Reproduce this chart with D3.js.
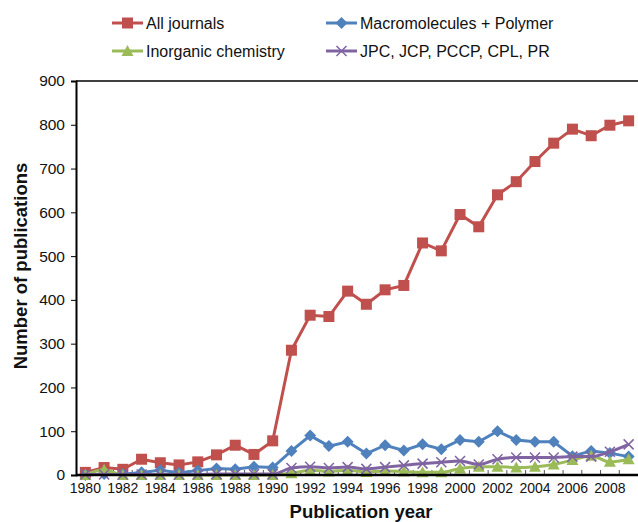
<!DOCTYPE html>
<html>
<head>
<meta charset="utf-8">
<script src="https://cdnjs.cloudflare.com/ajax/libs/d3/7.8.5/d3.min.js"></script>
<style>
  body { margin: 0; background: #fff; }
  text { font-family: "Liberation Sans", Arial, sans-serif; fill: #111; }
</style>
</head>
<body>
<div id="chart"></div>
<script>
// categories and series
var years = [1980, 1981, 1982, 1983, 1984, 1985, 1986, 1987, 1988, 1989,
             1990, 1991, 1992, 1993, 1994, 1995, 1996, 1997, 1998, 1999,
             2000, 2001, 2002, 2003, 2004, 2005, 2006, 2007, 2008, 2009];

var allJournals = [6, 17, 13, 36, 28, 23, 30, 46, 68, 47,
                   78, 285, 365, 362, 420, 390, 423, 433, 530, 512,
                   595, 567, 640, 670, 716, 758, 790, 775, 799, 809];
var macroPolymer = [0, 2, 2, 6, 11, 5, 10, 15, 13, 19,
                    17, 55, 90, 66, 76, 49, 68, 56, 70, 59,
                    80, 76, 100, 80, 76, 76, 43, 55, 50, 42];
var inorganic = [0, 12, 0, 0, 0, 0, 0, 0, 0, 0,
                 0, 4, 11, 8, 11, 7, 9, 8, 6, 6,
                 15, 19, 19, 17, 19, 24, 34, 44, 30, 36];
var physChem = [1, 1, 1, 1, 1, 1, 1, 2, 2, 2,
                2, 16, 19, 16, 18, 14, 18, 22, 26, 29,
                32, 24, 36, 40, 40, 40, 42, 42, 53, 70];

var seriesNames = ["All journals", "Macromolecules + Polymer", "Inorganic chemistry", "JPC, JCP, PCCP, CPL, PR"];
var yTicks = [0, 100, 200, 300, 400, 500, 600, 700, 800, 900];
var xTickLabels = [1980, 1982, 1984, 1986, 1988, 1990, 1992, 1994, 1996, 1998, 2000, 2002, 2004, 2006, 2008];

var W = 638, H = 522;
var margin = {top: 81, right: 0, bottom: 47, left: 76};

var svg = d3.select("#chart").append("svg")
  .attr("width", W).attr("height", H);

var x = d3.scaleLinear()
  .domain([years[0] - 0.5, years[years.length - 1] + 0.5])
  .range([margin.left, W - margin.right]);

var y = d3.scaleLinear()
  .domain([0, 900])
  .range([H - margin.bottom, margin.top]);

var series = [
  {name: seriesNames[0], values: allJournals, color: "#c0504d", marker: "square", curve: d3.curveLinear},
  {name: seriesNames[1], values: macroPolymer, color: "#4f81bd", marker: "diamond", curve: d3.curveLinear},
  {name: seriesNames[2], values: inorganic, color: "#9bbb59", marker: "triangle", curve: d3.curveMonotoneX},
  {name: seriesNames[3], values: physChem, color: "#8064a2", marker: "cross", curve: d3.curveMonotoneX}
];

// top border line
svg.append("line")
  .attr("x1", margin.left).attr("x2", W)
  .attr("y1", margin.top).attr("y2", margin.top)
  .attr("stroke", "#000").attr("stroke-width", 1.5);

// y axis
var yAxis = svg.append("g")
  .attr("transform", "translate(" + margin.left + ",0)")
  .call(d3.axisLeft(y).tickValues(yTicks).tickSize(5).tickPadding(6));
yAxis.select(".domain").attr("stroke-width", 2);
yAxis.selectAll("text").style("font-size", "15.5px").style("font-family", "Liberation Sans, Arial, sans-serif");

// x axis: ticks at category boundaries, labels every other year
var boundaries = years.map(function(d) { return d + 0.5; }).slice(0, -1);
svg.append("g")
  .selectAll("line")
  .data(boundaries)
  .enter()
  .append("line")
  .attr("x1", function(d) { return x(d); })
  .attr("x2", function(d) { return x(d); })
  .attr("y1", y(0) - 5)
  .attr("y2", y(0))
  .attr("stroke", "#555")
  .attr("stroke-width", 1);

svg.append("g")
  .selectAll("text")
  .data(xTickLabels)
  .enter()
  .append("text")
  .attr("x", function(d) { return x(d); })
  .attr("y", y(0) + 18)
  .attr("text-anchor", "middle")
  .style("font-size", "14px")
  .text(function(d) { return d; });

// series lines and markers
function drawMarker(g, type, color) {
  if (type === "square") {
    g.append("rect").attr("x", -5.5).attr("y", -5.5).attr("width", 11).attr("height", 11).attr("fill", color);
  } else if (type === "diamond") {
    g.append("path").attr("d", "M0,-6L6,0L0,6L-6,0Z").attr("fill", color);
  } else if (type === "triangle") {
    g.append("path").attr("d", "M0,-6L6,5L-6,5Z").attr("fill", color);
  } else {
    g.append("path").attr("d", "M-5,-5L5,5M-5,5L5,-5").attr("stroke", color).attr("stroke-width", 1.5).attr("fill", "none");
  }
}

series.forEach(function(s) {
  var line = d3.line()
    .x(function(d, i) { return x(years[i]); })
    .y(function(d) { return y(d); })
    .curve(s.curve);

  svg.append("path")
    .datum(s.values)
    .attr("d", line)
    .attr("fill", "none")
    .attr("stroke", s.color)
    .attr("stroke-width", 3);

  svg.append("g")
    .selectAll("g")
    .data(s.values)
    .enter()
    .append("g")
    .attr("transform", function(d, i) { return "translate(" + x(years[i]) + "," + y(d) + ")"; })
    .each(function() { drawMarker(d3.select(this), s.marker, s.color); });
});

// x axis baseline drawn on top
svg.append("line")
  .attr("x1", margin.left).attr("x2", W)
  .attr("y1", y(0)).attr("y2", y(0))
  .attr("stroke", "#000").attr("stroke-width", 2.5);

// axis titles
svg.append("text")
  .attr("x", 361)
  .attr("y", 518)
  .attr("text-anchor", "middle")
  .style("font-size", "18.5px")
  .style("font-weight", "bold")
  .text("Publication year");

svg.append("text")
  .attr("transform", "translate(27,266) rotate(-90)")
  .attr("text-anchor", "middle")
  .style("font-size", "18.5px")
  .style("font-weight", "bold")
  .text("Number of publications");

// legend
var legendPos = [[112, 23], [326, 23], [112, 51], [326, 51]];
series.forEach(function(s, i) {
  var g = svg.append("g")
    .attr("transform", "translate(" + legendPos[i][0] + "," + legendPos[i][1] + ")");
  g.append("line")
    .attr("x1", 0).attr("x2", 31)
    .attr("y1", 0).attr("y2", 0)
    .attr("stroke", s.color).attr("stroke-width", 3);
  var m = g.append("g").attr("transform", "translate(15.5,0)");
  drawMarker(m, s.marker, s.color);
  g.append("text")
    .attr("x", 34)
    .attr("y", 6)
    .style("font-size", "16px")
    .text(s.name);
});
</script>
</body>
</html>
